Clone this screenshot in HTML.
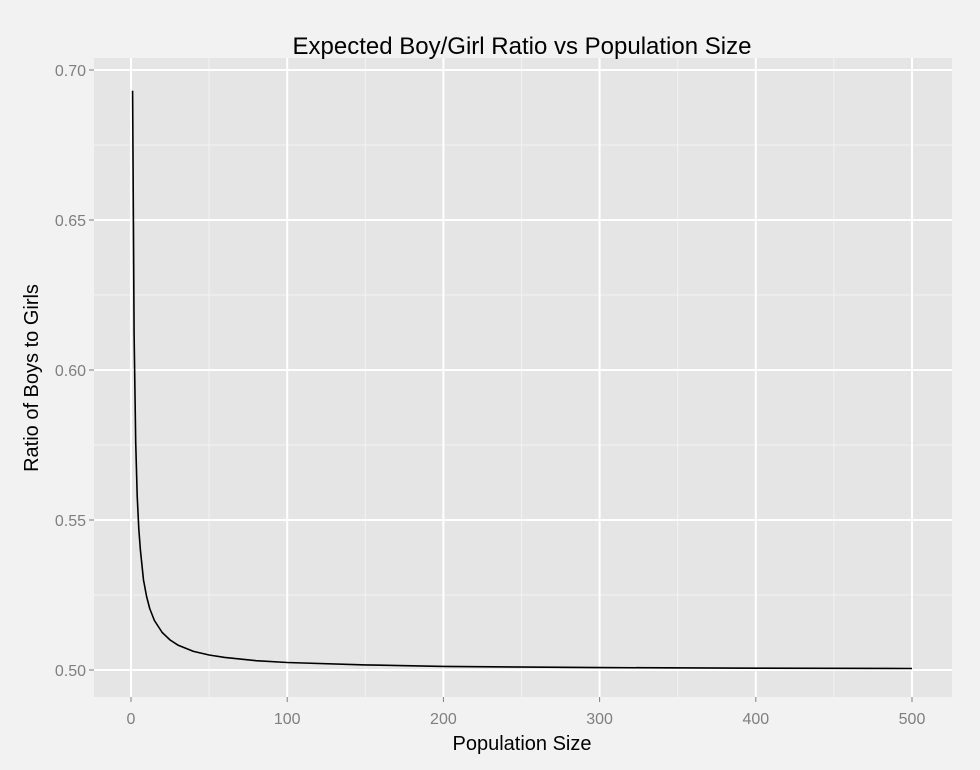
<!DOCTYPE html>
<html><head><meta charset="utf-8"><style>
body{margin:0;background:#f2f2f2;}
svg{display:block;font-family:"Liberation Sans",sans-serif;}
</style></head><body>
<svg id="chart" width="980" height="770">
<rect x="0" y="0" width="980" height="770" fill="#f2f2f2"/>
<rect x="94" y="58" width="858" height="639" fill="#e5e5e5"/>
<g id="grid"></g>
<g id="series"></g>
<g id="axes"></g>
<text x="522" y="54" text-anchor="middle" font-size="24" fill="#000">Expected Boy/Girl Ratio vs Population Size</text>
<text x="522" y="750" text-anchor="middle" font-size="20" fill="#000">Population Size</text>
<text transform="translate(38,378) rotate(-90)" text-anchor="middle" font-size="20" fill="#000">Ratio of Boys to Girls</text>
</svg>
<script>
const popSizes=[1,2,3,4,5,6,8,10,12,15,20,25,30,40,50,60,80,100,150,200,300,400,500];
const ratios=[0.6931,0.612,0.576,0.558,0.547,0.540,0.530,0.5245,0.5205,0.5165,0.5125,0.510,0.5083,0.5062,0.505,0.5042,0.5031,0.5025,0.5017,0.5012,0.5008,0.5006,0.5005];
const xTicks=[0,100,200,300,400,500];
const xMinor=[50,150,250,350,450];
const yTicks=[0.50,0.55,0.60,0.65,0.70];
const yTickLabels=["0.50","0.55","0.60","0.65","0.70"];
const yMinor=[0.525,0.575,0.625,0.675];
const NS="http://www.w3.org/2000/svg";
const X0=94,X1=952,Y0=58,Y1=697;
function xs(v){return 131+v*1.5620;}
function ys(v){return 670-(v-0.5)*3000;}
function mk(tag,attrs,parent){const e=document.createElementNS(NS,tag);for(const k in attrs)e.setAttribute(k,attrs[k]);document.getElementById(parent).appendChild(e);return e;}
xMinor.forEach(v=>{const l=mk('line',{x1:xs(v),x2:xs(v),y1:Y0,y2:Y1,stroke:'#f2f2f2','stroke-width':1},'grid');

});
yMinor.forEach(v=>{const l=mk('line',{x1:X0,x2:X1,y1:ys(v),y2:ys(v),stroke:'#f2f2f2','stroke-width':1},'grid');

});
xTicks.forEach(v=>{const l=mk('line',{x1:xs(v),x2:xs(v),y1:Y0,y2:Y1,stroke:'#fff','stroke-width':2},'grid');


const t=mk('line',{x1:xs(v),x2:xs(v),y1:Y1,y2:Y1+5,stroke:'#7f7f7f','stroke-width':1},'axes');


const tx=mk('text',{x:xs(v),y:Y1+27,'text-anchor':'middle','font-size':16,fill:'#7f7f7f'},'axes');tx.textContent=v;

});
yTicks.forEach((v,i)=>{const l=mk('line',{x1:X0,x2:X1,y1:ys(v),y2:ys(v),stroke:'#fff','stroke-width':2},'grid');


const t=mk('line',{x1:X0-5,x2:X0,y1:ys(v),y2:ys(v),stroke:'#7f7f7f','stroke-width':1},'axes');


const tx=mk('text',{x:X0-8,y:ys(v)+6,'text-anchor':'end','font-size':16,fill:'#7f7f7f'},'axes');tx.textContent=yTickLabels[i];

});
const d=popSizes.map((n,i)=>(i?'L':'M')+xs(n).toFixed(1)+','+ys(ratios[i]).toFixed(1)).join(' ');
const p=mk('path',{d:d,fill:'none',stroke:'#000','stroke-width':1.6,'stroke-linejoin':'round'},'series');


</script>
</body></html>
